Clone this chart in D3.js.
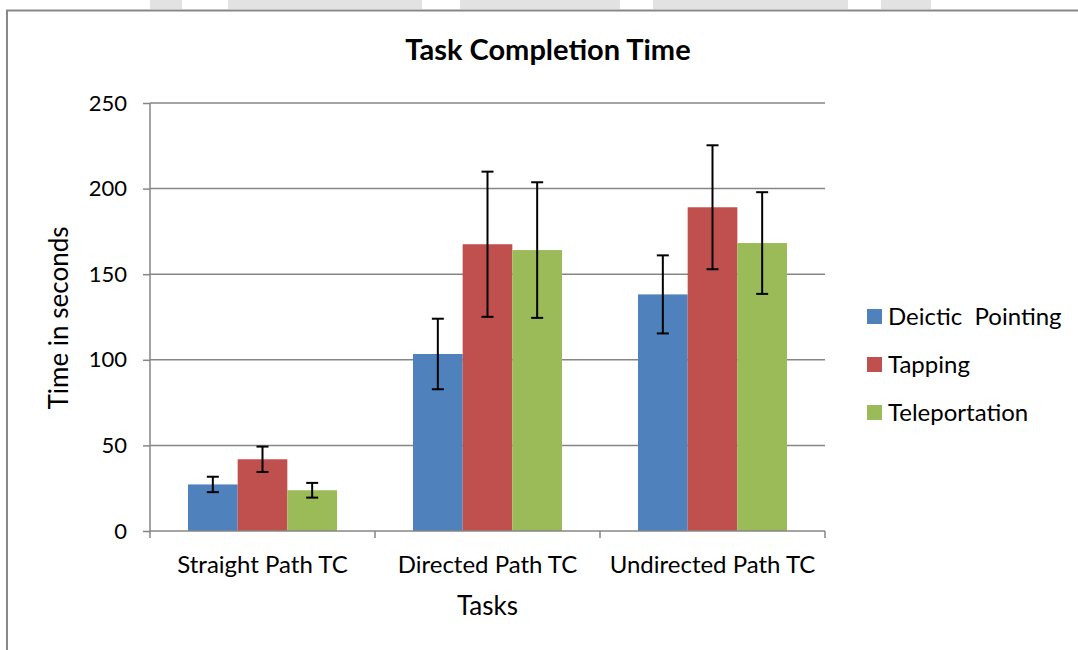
<!DOCTYPE html>
<html><head><meta charset="utf-8">
<script src="https://cdn.jsdelivr.net/npm/d3@7"></script>
<style>body{margin:0;background:#fff}svg{display:block}text{font-family:Lato,"Open Sans",sans-serif;white-space:pre}</style>
</head><body><svg id="c" width="1078" height="650"></svg>
<script>
const categories = ["Straight Path TC", "Directed Path TC", "Undirected Path TC"];
const seriesNames = ["Deictic  Pointing", "Tapping", "Teleportation"];
const seriesColors = ["#4F81BD", "#C0504D", "#9BBB59"];
const deicticPointing = [27.2, 103.4, 138.2];
const tapping = [41.9, 167.5, 189.1];
const teleportation = [23.8, 164.1, 168.2];
const deicticErr = [4.5, 20.6, 22.8];
const tappingErr = [7.4, 42.4, 36.2];
const teleportErr = [4.3, 39.6, 29.7];
const yTicks = [0, 50, 100, 150, 200, 250];

const series = [
  {name: seriesNames[0], values: deicticPointing, err: deicticErr, color: seriesColors[0]},
  {name: seriesNames[1], values: tapping, err: tappingErr, color: seriesColors[1]},
  {name: seriesNames[2], values: teleportation, err: teleportErr, color: seriesColors[2]}
];

const svg = d3.select("#c");
// page decoration strip above the frame
const deco = [[150,182],[228,422],[460,620],[653,848],[881,931]];
svg.selectAll("rect.deco").data(deco).join("rect").attr("class","deco")
  .attr("x", d=>d[0]).attr("y",0).attr("width", d=>d[1]-d[0]).attr("height",9).attr("fill","#e2e2e2");
// frame
svg.append("path").attr("d","M7,650 V10.5 H1078").attr("fill","none").attr("stroke","#888").attr("stroke-width",2);

const L = 150, R = 825, T = 103, B = 531;
const x0 = d3.scaleBand().domain(categories).range([L, R]).paddingInner(0).paddingOuter(0);
const bw = x0.bandwidth();
const x1 = d3.scaleBand().domain(seriesNames).range([0, bw]).paddingInner(0).paddingOuter(0.765);
const y = d3.scaleLinear().domain([0, 250]).range([B, T]);

// gridlines
svg.append("g").selectAll("line").data(yTicks.filter(t=>t>0)).join("line")
  .attr("x1", L).attr("x2", R).attr("y1", d=>y(d)).attr("y2", d=>y(d))
  .attr("stroke","#868686").attr("stroke-width",1.5);

// bars
const g = svg.append("g");
series.forEach(s => {
  g.selectAll(null).data(categories).join("rect")
    .attr("x", (c)=>x0(c)+x1(s.name)).attr("width", x1.bandwidth())
    .attr("y", (c,i)=>y(s.values[i])).attr("height", (c,i)=>B - y(s.values[i]))
    .attr("fill", s.color);
});
// error bars
series.forEach(s => {
  categories.forEach((c,i) => {
    const cx = x0(c)+x1(s.name)+x1.bandwidth()/2;
    const hi = y(s.values[i]+s.err[i]), lo = y(s.values[i]-s.err[i]);
    const eg = svg.append("g").attr("stroke","#000").attr("stroke-width",2);
    eg.append("line").attr("x1",cx).attr("x2",cx).attr("y1",hi).attr("y2",lo);
    eg.append("line").attr("x1",cx-6).attr("x2",cx+6).attr("y1",hi).attr("y2",hi);
    eg.append("line").attr("x1",cx-6).attr("x2",cx+6).attr("y1",lo).attr("y2",lo);
  });
});

// y axis
const ya = svg.append("g").attr("transform",`translate(${L},0)`)
  .call(d3.axisLeft(y).tickValues(yTicks).tickSize(7).tickPadding(16));
ya.select(".domain").attr("stroke","#868686").attr("stroke-width",1.5).attr("d",`M0,${T}V${B}`);
ya.selectAll(".tick line").attr("stroke","#868686").attr("stroke-width",1.5);
ya.selectAll(".tick text").attr("font-size",22).attr("fill","#000").attr("font-family","Lato");

// x axis
const xa = svg.append("g").attr("transform",`translate(0,${B})`)
  .call(d3.axisBottom(x0).tickSize(0).tickPadding(25));
xa.select(".domain").attr("stroke","#868686").attr("stroke-width",1.5).attr("d",`M${L},0H${R}`);
xa.selectAll(".tick text").attr("font-size",24).attr("fill","#000").attr("font-family","Lato");
const bounds = [L].concat(categories.map(c=>x0(c)+bw));
svg.append("g").selectAll("line").data(bounds).join("line")
  .attr("x1",d=>d).attr("x2",d=>d).attr("y1",B).attr("y2",B+7)
  .attr("stroke","#868686").attr("stroke-width",1.5);

// titles
svg.append("text").attr("x",548).attr("y",60).attr("text-anchor","middle")
  .attr("font-size",29).attr("font-weight","bold").text("Task Completion Time");
svg.append("text").attr("x",(L+R)/2).attr("y",615).attr("text-anchor","middle")
  .attr("font-size",26).text("Tasks");
svg.append("text").attr("transform",`translate(68,${(T+B)/2 + 1}) rotate(-90)`).attr("text-anchor","middle")
  .attr("font-size",26).text("Time in seconds");

// legend
const lg = svg.append("g").selectAll("g").data(series).join("g")
  .attr("transform",(d,i)=>`translate(867,${309 + i*48})`);
lg.append("rect").attr("width",15).attr("height",15).attr("fill",d=>d.color);
lg.append("text").attr("x",21).attr("y",16).attr("font-size",24).text(d=>d.name);
</script></body></html>
